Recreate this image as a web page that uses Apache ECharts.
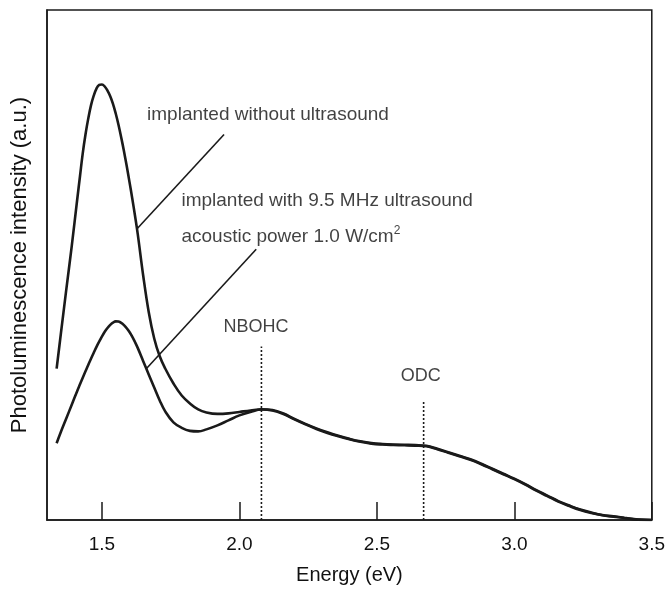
<!DOCTYPE html>
<html>
<head>
<meta charset="utf-8">
<script src="https://cdn.jsdelivr.net/npm/echarts@6/dist/echarts.min.js"></script>
<style>html,body{margin:0;padding:0;background:#fff}#c{width:668px;height:590px}</style>
</head>
<body>
<div id="c"></div>
<script>
// Energy (eV) axis tick labels
var xTicks = [1.5, 2.0, 2.5, 3.0, 3.5];

// Sampled photon energies (eV)
var energy = [1.335,1.35,1.37,1.39,1.41,
  1.42,1.43,1.44,1.45,1.46,1.47,1.48,1.49,1.50,1.51,1.52,1.53,1.54,1.55,1.56,1.57,1.58,1.59,1.60,1.61,1.62,1.63,
  1.65,1.67,1.69,1.71,1.73,
  1.76,1.79,1.82,1.85,1.88,
  1.92,1.96,2.00,2.04,2.08,2.12,2.16,2.20,2.24,2.28,2.32,2.36,2.40,2.44,2.48,2.52,2.56,2.60,2.64,2.68,2.72,2.76,2.80,
  2.84,2.88,2.92,2.96,3.00,3.04,3.08,3.12,3.16,3.20,3.24,3.28,3.32,3.36,3.40,3.45,3.50];

// Implanted without ultrasound
var intensityNoUS = [29.69,36.33,45.12,53.71,62.89,
  67.4,71.9,75.6,78.7,81.3,83.2,84.6,85.3,85.4,85.0,84.2,83.1,81.6,79.7,77.5,75.0,72.3,69.4,66.3,63.1,59.7,56.1,
  47.9,40.8,35.6,32.1,29.7,
  26.76,24.41,22.85,21.68,21.09,
  20.80,20.90,21.19,21.48,21.72,21.58,20.90,19.82,18.85,17.97,17.19,16.50,15.92,15.43,15.08,14.90,14.80,14.75,14.69,14.55,13.96,13.28,12.60,
  11.91,11.04,10.06,9.08,8.11,7.03,5.86,4.79,3.71,2.83,2.05,1.46,0.98,0.72,0.43,0.10,0];

// Implanted with 9.5 MHz ultrasound
var intensityUS = [15.04,17.20,19.90,22.60,25.30,
  26.6,27.9,29.15,30.4,31.6,32.8,33.95,35.0,36.0,36.9,37.65,38.25,38.7,38.95,38.9,38.65,38.2,37.6,36.85,35.95,34.9,33.75,
  31.15,28.55,25.98,23.44,21.29,
  19.14,18.07,17.48,17.38,17.77,
  18.55,19.53,20.51,21.19,21.68,21.48,20.78,19.73,18.75,17.85,17.07,16.41,15.82,15.33,14.98,14.80,14.71,14.65,14.59,14.45,13.87,13.18,12.50,
  11.82,10.94,9.96,8.98,8.01,6.93,5.76,4.69,3.61,2.73,1.95,1.37,0.92,0.66,0.39,0.08,0];

// Peak markers
var peakNames = ['NBOHC', 'ODC'];
var peakEnergy = [2.08, 2.67];
var peakTop = [34.0, 23.3];
var peakLabelY = [37.9, 28.3];
var peakLabelX = [2.06, 2.66];

// Annotation leader lines
var leaderNoUS = [[1.626, 57.0], [1.944, 75.6]];
var leaderUS = [[1.662, 29.7], [2.061, 53.1]];

// Annotation texts
var annoTexts = ['implanted without ultrasound', 'implanted with 9.5 MHz ultrasound', 'acoustic power 1.0 W/cm'];
var annoPos = [[1.664, 79.5], [1.789, 62.6], [1.789, 55.5]];

var FONT = '"Liberation Sans", Arial, Helvetica, sans-serif';
var INK = '#1a1a1a';
var TXT = '#111111';
var FS = 19;

function zip(a, b) { return a.map(function (v, i) { return [v, b[i]]; }); }

var series = [
  { type: 'line', data: zip(energy, intensityNoUS), smooth: 0.4, showSymbol: false, lineStyle: { color: INK, width: 2.6 }, z: 5 },
  { type: 'line', data: zip(energy, intensityUS), smooth: 0.4, showSymbol: false, lineStyle: { color: INK, width: 2.6 }, z: 5 },
  { type: 'line', data: leaderNoUS, showSymbol: false, lineStyle: { color: INK, width: 1.6 } },
  { type: 'line', data: leaderUS, showSymbol: false, lineStyle: { color: INK, width: 1.6 } }
];
peakEnergy.forEach(function (e, i) {
  series.push({ type: 'line', data: [[e, 0], [e, peakTop[i]]], showSymbol: false, lineStyle: { color: INK, width: 1.6, type: [2, 2] } });
  series.push({ type: 'scatter', data: [[peakLabelX[i], peakLabelY[i]]], symbolSize: 0,
    label: { show: true, position: 'inside', formatter: peakNames[i], color: TXT, fontSize: FS - 1, fontFamily: FONT } });
});
annoTexts.forEach(function (t, i) {
  var isPow = i === 2;
  series.push({ type: 'scatter', data: [annoPos[i]], symbolSize: 0,
    label: { show: true, position: 'right', distance: 0, color: TXT, fontFamily: FONT,
      formatter: isPow ? '{a|' + t + '}{s|2}' : '{a|' + t + '}',
      rich: { a: { fontSize: FS, fontFamily: FONT, color: TXT }, s: { fontSize: 12, fontFamily: FONT, color: TXT, padding: [0, 0, 12, 0] } } } });
});

var chart = echarts.init(document.getElementById('c'), null, { renderer: 'canvas' });
chart.setOption({
  animation: false,
  backgroundColor: '#fff',
  grid: { left: 47, right: 15, top: 10, bottom: 68, show: true, borderColor: INK, borderWidth: 1.5 },
  xAxis: {
    type: 'value', min: 1.3, max: 3.5,
    name: 'Energy (eV)', nameLocation: 'middle', nameGap: 45,
    nameTextStyle: { fontSize: 20, fontFamily: FONT, color: TXT },
    axisLine: { show: true, lineStyle: { color: INK, width: 1.5 } },
    axisTick: { show: true, inside: true, length: 18, customValues: xTicks, lineStyle: { color: INK, width: 1.5 } },
    axisLabel: { customValues: xTicks, margin: 15, fontSize: FS, fontFamily: FONT, color: TXT, formatter: function (v) { return v.toFixed(1); } },
    splitLine: { show: false }
  },
  yAxis: {
    type: 'value', min: 0, max: 100,
    name: 'Photoluminescence intensity (a.u.)', nameLocation: 'middle', nameGap: 16,
    nameTextStyle: { fontSize: 22, fontFamily: FONT, color: TXT },
    axisLine: { show: true, lineStyle: { color: INK, width: 1.5 } },
    axisTick: { show: false }, axisLabel: { show: false }, splitLine: { show: false }
  },
  series: series
});
</script>
</body>
</html>
